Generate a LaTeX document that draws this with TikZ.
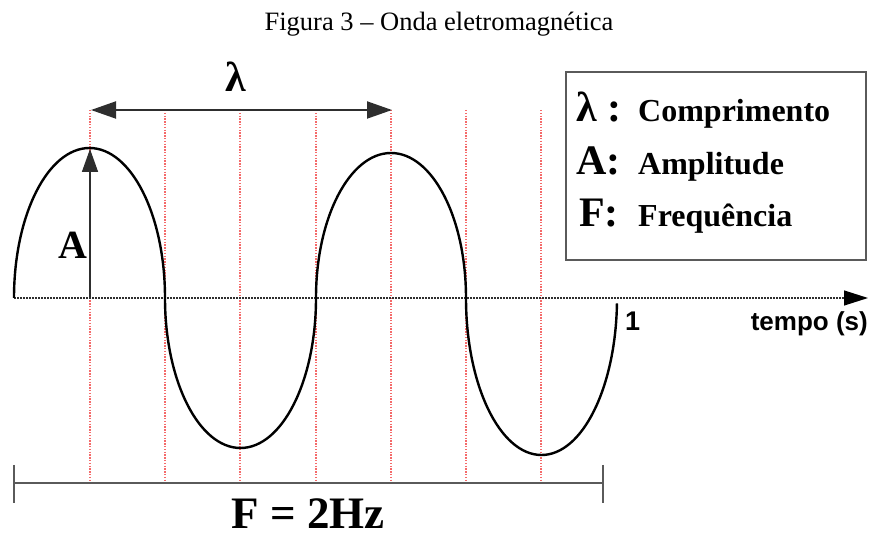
\documentclass[tikz,border=0pt]{standalone}
\usepackage{fontspec}
\setmainfont{Liberation Serif}
\newfontfamily\axisfont{Liberation Sans}
\usetikzlibrary{arrows.meta}
\definecolor{gridred}{HTML}{F46A6A}
\definecolor{darkline}{HTML}{2E2E2E}
\definecolor{boxgray}{HTML}{5A5A5A}
\newcommand\fsz[1]{\fontsize{#1}{#1}\selectfont}

\begin{document}
\begin{tikzpicture}[x=1pt,y=-1pt,
    wave/.style={line width=2.4pt,black},
    gridline/.style={line width=1.4pt,gridred,dash pattern=on 1.4pt off 1.4pt},
    axisline/.style={line width=1.2pt,darkline,dash pattern=on 1.5pt off 1.5pt},
    dimarrow/.style={line width=2pt,darkline},
    lbl/.style={inner sep=0pt,anchor=base},
    legtxt/.style={inner sep=0pt,anchor=base west,font=\fsz{32}\bfseries}]
  \useasboundingbox (0,0) rectangle (871,537);

  % title
  \node[lbl,font=\fsz{26.5}] (title) at (439,31) {Figura 3 -- Onda eletromagnética};

  % red dotted guides
  \foreach \gx in {90,165,240,316,391,466,541}
    \draw[gridline] (\gx,110) -- (\gx,483);

  % time axis
  \coordinate (origin) at (14,298);
  \coordinate (axisend) at (868,298);
  \draw[axisline] (origin) -- (850,298);
  \draw[line width=1.2pt,-{Triangle[length=24pt,width=15pt]}] (846,298) -- (axisend);

  % the wave
  \draw[wave] (origin)
    arc[start angle=180,end angle=360,x radius=75.5,y radius=150]
    arc[start angle=180,end angle=0,x radius=75.5,y radius=150]
    arc[start angle=180,end angle=360,x radius=75,y radius=145]
    arc[start angle=180,end angle=2,x radius=75.5,y radius=157];

  % wavelength
  \coordinate (lamL) at (91,110);
  \coordinate (lamR) at (392,110);
  \draw[dimarrow,{Triangle[length=25pt,width=17pt]}-{Triangle[length=25pt,width=17pt]}] (lamL) -- (lamR);
  \node[lbl,font=\fsz{42}\bfseries] (lam) at (236,92) {λ};

  % amplitude
  \coordinate (ampB) at (90,298);
  \coordinate (ampT) at (90,149);
  \draw[line width=1.5pt,darkline,-{Triangle[length=23pt,width=16pt]}] (ampB) -- (ampT);
  \node[lbl,anchor=base east,font=\fsz{40}\bfseries] (amp) at (88,259) {A};

  % axis labels
  \node[lbl,anchor=base west,font=\axisfont\fsz{27}\bfseries] (one) at (625,331) {1};
  \node[lbl,anchor=base east,font=\axisfont\fsz{26}\bfseries] (tempo) at (868,331) {tempo (s)};

  % period bracket
  \coordinate (brL) at (14,483);
  \coordinate (brR) at (603,483);
  \draw[dimarrow,boxgray] (brL) -- (brR);
  \draw[dimarrow,boxgray] (14,465) -- (14,503);
  \draw[dimarrow,boxgray] (603,465) -- (603,503);
  \node[lbl,font=\fsz{45}\bfseries] (freq) at (308,528) {F = 2Hz};

  % legend
  \draw[line width=2pt,boxgray] (566,72) rectangle (866,260);
  \node[legtxt,font=\fsz{42}\bfseries] (k1) at (576,122) {λ :};
  \node[legtxt] (v1) at (638,122) {Comprimento};
  \node[legtxt,font=\fsz{42}\bfseries] (k2) at (576,175) {A:};
  \node[legtxt] (v2) at (638,175) {Amplitude};
  \node[legtxt,font=\fsz{42}\bfseries] (k3) at (579,227) {F:};
  \node[legtxt] (v3) at (638,227) {Frequência};
\end{tikzpicture}
\end{document}
